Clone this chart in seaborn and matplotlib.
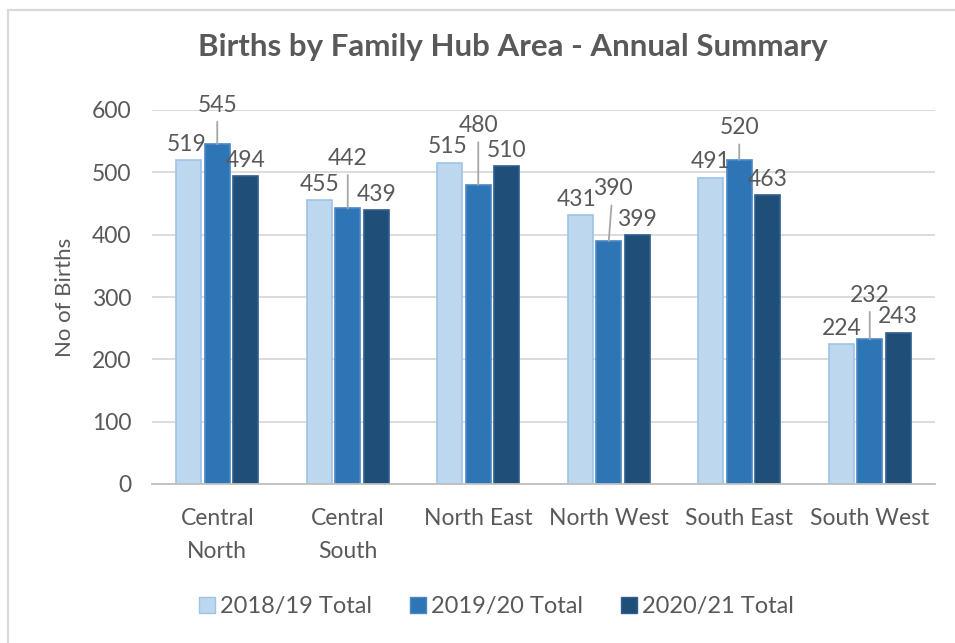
import matplotlib
matplotlib.use("Agg")
import matplotlib.pyplot as plt
import seaborn as sns
import pandas as pd
from matplotlib.lines import Line2D

# ---- data ----
categories = ["Central\nNorth", "Central\nSouth", "North East", "North West", "South East", "South West"]
series_names = ["2018/19 Total", "2019/20 Total", "2020/21 Total"]
vals_1819 = [519, 455, 515, 431, 491, 224]
vals_1920 = [545, 442, 480, 390, 520, 232]
vals_2021 = [494, 439, 510, 399, 463, 243]
y_ticks = [0, 100, 200, 300, 400, 500, 600]
title = "Births by Family Hub Area - Annual Summary"
y_label = "No of Births"

# ---- style ----
fills = ["#BDD7EE", "#2E75B6", "#1F4E79"]
edges = ["#9DC3E6", "#4A86C5", "#2F5F8E"]
text_col = "#595959"
# label offsets (px) for the middle series, which uses leader lines
mid_offsets_px = [39, 50, 59, 52, 32, 44]
# small horizontal nudges (px) per series/category
x_nudge_px = [[-2, 0, -2, -4, 0, 0],
              [0, 0, 0, 4, 0, 0],
              [0, 0, 0, 0, 0, 0]]
normal_offset_px = 16

sns.set_style("white")
plt.rcParams["font.family"] = ["Lato", "DejaVu Sans"]

rows = []
for name, vals in zip(series_names, [vals_1819, vals_1920, vals_2021]):
    for c, v in zip(categories, vals):
        rows.append({"Area": c, "Series": name, "Births": v})
df = pd.DataFrame(rows)

W, H = 955, 643
fig = plt.figure(figsize=(W / 100, H / 100), dpi=100)
ax = fig.add_axes([152 / W, 1 - 484 / H, (935 - 152) / W, (484 - 110) / H])

sns.barplot(data=df, x="Area", y="Births", hue="Series", order=categories,
            hue_order=series_names, palette=fills, width=0.654, gap=0.13,
            ax=ax, legend=False, saturation=1)

for i, cont in enumerate(ax.containers):
    for bar in cont:
        bar.set_edgecolor(edges[i])
        bar.set_linewidth(1.2)

ax.set_ylim(0, 600)
ax.set_yticks(y_ticks)
ax.yaxis.grid(True, color="#D9D9D9", linewidth=1.3)
ax.set_axisbelow(True)
for s in ["top", "right", "left"]:
    ax.spines[s].set_visible(False)
ax.spines["bottom"].set_color("#BFBFBF")
ax.spines["bottom"].set_linewidth(1.3)
ax.tick_params(axis="both", length=0, colors=text_col, labelsize=16.5)
ax.tick_params(axis="y", pad=15)
ax.tick_params(axis="x", pad=17)
for lbl in ax.get_xticklabels():
    lbl.set_linespacing(1.75)
ax.set_xlabel("")
ax.set_ylabel(y_label, color=text_col, fontsize=16, labelpad=12)

px2pt = 0.72
for i, cont in enumerate(ax.containers):
    for j, bar in enumerate(cont):
        xc = bar.get_x() + bar.get_width() / 2
        h = bar.get_height()
        dx = x_nudge_px[i][j] * px2pt
        if i == 1:
            ax.annotate(f"{int(h)}", xy=(xc, h), xytext=(dx, mid_offsets_px[j] * px2pt),
                        textcoords="offset points", ha="center", va="center",
                        fontsize=16.5, color=text_col,
                        arrowprops=dict(arrowstyle="-", color="#A6A6A6", lw=1.3,
                                        shrinkA=2, shrinkB=0))
        else:
            ax.annotate(f"{int(h)}", xy=(xc, h), xytext=(dx, normal_offset_px * px2pt),
                        textcoords="offset points", ha="center", va="center",
                        fontsize=16.5, color=text_col)

fig.text(513 / W, 1 - 47 / H, title, ha="center", va="center", fontsize=22.5,
         fontweight="bold", color=text_col)

handles = [Line2D([], [], marker="s", linestyle="none", markersize=11,
                  markerfacecolor=fills[i], markeredgecolor=edges[i]) for i in range(3)]
fig.legend(handles, series_names, loc="center", bbox_to_anchor=(496 / W, 1 - 607 / H),
           ncol=3, frameon=False, fontsize=17, labelcolor=text_col,
           handlelength=0.7, handletextpad=0.2, columnspacing=1.6)

# chart-area border (top & left visible)
fig.add_artist(Line2D([8 / W, 8 / W], [0, 1 - 10 / H], transform=fig.transFigure,
                      color="#D9D9D9", linewidth=1.6))
fig.add_artist(Line2D([8 / W, 1], [1 - 10 / H, 1 - 10 / H], transform=fig.transFigure,
                      color="#D9D9D9", linewidth=1.6))

fig.savefig("out.png", dpi=100)
